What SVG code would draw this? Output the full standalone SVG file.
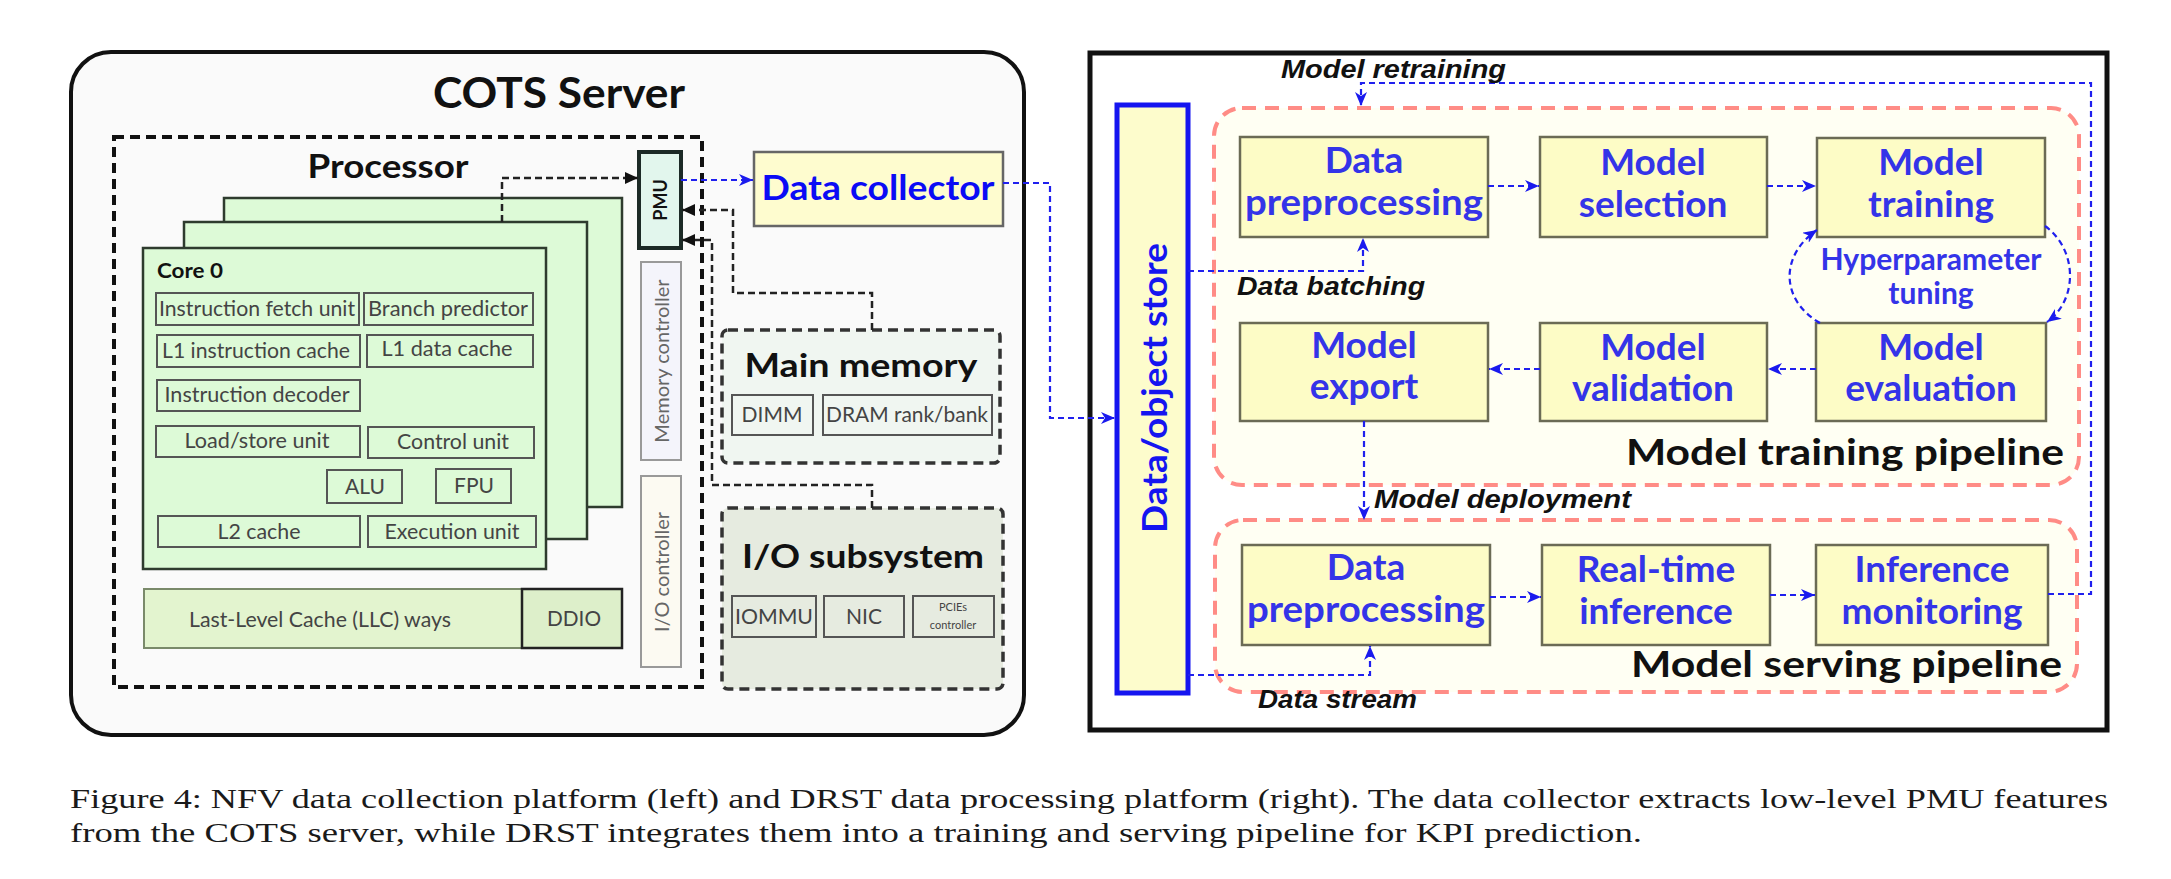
<svg xmlns="http://www.w3.org/2000/svg" width="2171" height="879" viewBox="0 0 2171 879">
<defs>
<marker id="ab" markerUnits="userSpaceOnUse" markerWidth="16" markerHeight="12" refX="14" refY="6" orient="auto">
<path d="M0,0 L14,6 L0,12 L4,6 z" fill="#1a1aee"/>
</marker>
<marker id="ak" markerUnits="userSpaceOnUse" markerWidth="14" markerHeight="12" refX="13" refY="6" orient="auto">
<path d="M0,0 L13,6 L0,12 z" fill="#111"/>
</marker>
<style>
.t{font-family:Lato,"Open Sans","Liberation Sans",sans-serif}
.h{font-family:Lato,"Open Sans","Liberation Sans",sans-serif;font-weight:bold;fill:#111}
.sm{font-family:Lato,"Open Sans","Liberation Sans",sans-serif;font-size:21px;fill:#444;text-anchor:middle}
.ib{fill:none;stroke:#555;stroke-width:2}
.core{fill:#ddfad7;stroke:#2e3b2e;stroke-width:2.5}
.pb{fill:#fdfcc6;stroke:#6b6b55;stroke-width:2.5}
.pt{font-family:Lato,"Open Sans","Liberation Sans",sans-serif;font-weight:bold;font-size:37px;fill:#3434e8;text-anchor:middle}
.it{font-family:"Liberation Sans",Arial,sans-serif;font-weight:bold;font-style:italic;font-size:25px;fill:#111}
.pipe{fill:#fffff3;stroke:#ff8c86;stroke-width:4;stroke-dasharray:14 9}
.bl{fill:none;stroke:#2020ee;stroke-width:2.2;stroke-dasharray:6 4}
.bk{fill:none;stroke:#222;stroke-width:2.5;stroke-dasharray:7 4}
.dsh{stroke:#333;stroke-width:3.5;stroke-dasharray:10 6}
.cap{font-family:"Liberation Serif","Times New Roman",serif;font-size:27px;fill:#1a1a1a}
</style>
</defs>
<rect x="0" y="0" width="2171" height="879" fill="#ffffff"/>

<!-- LEFT PANEL -->
<g id="cots-server">
<rect x="71" y="52" width="953" height="683" rx="40" fill="#fafafa" stroke="#111" stroke-width="4"/>
<text class="h" x="559" y="108" font-size="42" text-anchor="middle" textLength="252" lengthAdjust="spacingAndGlyphs">COTS Server</text>
</g>
<g id="processor">
<rect x="114" y="137" width="588" height="550" fill="none" stroke="#111" stroke-width="4" stroke-dasharray="10 6"/>
<text class="h" x="388" y="178" font-size="32" text-anchor="middle" textLength="161" lengthAdjust="spacingAndGlyphs">Processor</text>
</g>
<g id="cores">
<rect class="core" x="224" y="198" width="398" height="309"/>
<rect class="core" x="184" y="222" width="403" height="317"/>
<rect class="core" x="143" y="248" width="403" height="321"/>
<text class="h" x="157" y="278" font-size="20" fill="#222" textLength="66" lengthAdjust="spacingAndGlyphs">Core 0</text>
<rect class="ib" x="156" y="293" width="203" height="32"/><text class="sm" x="257" y="316" textLength="196" lengthAdjust="spacingAndGlyphs">Instruction fetch unit</text>
<rect class="ib" x="364" y="293" width="169" height="32"/><text class="sm" x="448" y="316" textLength="160" lengthAdjust="spacingAndGlyphs">Branch predictor</text>
<rect class="ib" x="157" y="335" width="203" height="32"/><text class="sm" x="256" y="358" textLength="188" lengthAdjust="spacingAndGlyphs">L1 instruction cache</text>
<rect class="ib" x="367" y="335" width="166" height="32"/><text class="sm" x="447" y="356" textLength="131" lengthAdjust="spacingAndGlyphs">L1 data cache</text>
<rect class="ib" x="157" y="380" width="203" height="31"/><text class="sm" x="257" y="402" textLength="185" lengthAdjust="spacingAndGlyphs">Instruction decoder</text>
<rect class="ib" x="156" y="426" width="204" height="31"/><text class="sm" x="257" y="448" textLength="145" lengthAdjust="spacingAndGlyphs">Load/store unit</text>
<rect class="ib" x="368" y="427" width="166" height="31"/><text class="sm" x="453" y="449" textLength="112" lengthAdjust="spacingAndGlyphs">Control unit</text>
<rect class="ib" x="327" y="470" width="75" height="33"/><text class="sm" x="365" y="494">ALU</text>
<rect class="ib" x="436" y="469" width="75" height="34"/><text class="sm" x="474" y="493">FPU</text>
<rect class="ib" x="158" y="516" width="202" height="31"/><text class="sm" x="259" y="539" textLength="83" lengthAdjust="spacingAndGlyphs">L2 cache</text>
<rect class="ib" x="368" y="516" width="168" height="31"/><text class="sm" x="452" y="539" textLength="135" lengthAdjust="spacingAndGlyphs">Execution unit</text>
</g>
<g id="llc">
<rect x="144" y="589" width="378" height="59" fill="#e3f4cf" stroke="#7a8a6a" stroke-width="2"/>
<text class="sm" x="320" y="627" textLength="262" lengthAdjust="spacingAndGlyphs">Last-Level Cache (LLC) ways</text>
<rect x="522" y="589" width="100" height="59" fill="#ddefca" stroke="#222" stroke-width="2.5"/>
<text class="sm" x="574" y="626" textLength="54" lengthAdjust="spacingAndGlyphs">DDIO</text>
</g>
<g id="pmu">
<rect x="639" y="152" width="42" height="96" fill="#e2f6ed" stroke="#1c2a26" stroke-width="4"/>
<text class="h" x="660" y="200" font-size="18" text-anchor="middle" dominant-baseline="central" transform="rotate(-90 660 200)">PMU</text>
</g>
<g id="memory-controller">
<rect x="641" y="262" width="40" height="198" fill="#f4f4fb" stroke="#999" stroke-width="2"/>
<text class="t" x="661" y="361" font-size="20" fill="#666" text-anchor="middle" dominant-baseline="central" transform="rotate(-90 661 361)">Memory  controller</text>
</g>
<g id="io-controller">
<rect x="641" y="476" width="40" height="191" fill="#fcfaf2" stroke="#999" stroke-width="2"/>
<text class="t" x="661" y="572" font-size="20" fill="#666" text-anchor="middle" dominant-baseline="central" transform="rotate(-90 661 572)">I/O controller</text>
</g>
<g id="main-memory">
<rect x="722" y="330" width="278" height="133" rx="6" fill="#f0f6f1" class="dsh"/>
<text class="h" x="861" y="377" font-size="33" text-anchor="middle" textLength="233" lengthAdjust="spacingAndGlyphs">Main memory</text>
<rect class="ib" x="732" y="395" width="81" height="40"/><text class="sm" x="772" y="422" font-size="20" fill="#555">DIMM</text>
<rect class="ib" x="823" y="395" width="169" height="40"/><text class="sm" x="907" y="422" font-size="20" fill="#555" textLength="162" lengthAdjust="spacingAndGlyphs">DRAM rank/bank</text>
</g>
<g id="io-subsystem">
<rect x="722" y="508" width="281" height="181" rx="6" fill="#e6ebe0" class="dsh"/>
<text class="h" x="863" y="568" font-size="33" text-anchor="middle" textLength="242" lengthAdjust="spacingAndGlyphs">I/O subsystem</text>
<rect class="ib" x="732" y="596" width="84" height="41"/><text class="sm" x="774" y="624" font-size="20" fill="#555" textLength="78" lengthAdjust="spacingAndGlyphs">IOMMU</text>
<rect class="ib" x="824" y="596" width="80" height="41"/><text class="sm" x="864" y="624" font-size="20" fill="#555">NIC</text>
<rect class="ib" x="913" y="596" width="81" height="41"/>
<text class="sm" x="953" y="611" style="font-size:11px" fill="#666">PCIEs</text>
<text class="sm" x="953" y="629" style="font-size:11px" fill="#666">controller</text>
</g>
<g id="data-collector">
<rect x="754" y="152" width="249" height="74" fill="#fefccf" stroke="#666" stroke-width="2.5"/>
<text class="h" x="878" y="200" font-size="34" text-anchor="middle" style="fill:#0b0bf5" textLength="233" lengthAdjust="spacingAndGlyphs">Data collector</text>
</g>

<!-- RIGHT PANEL -->
<g id="drst-platform">
<rect x="1090" y="53" width="1017" height="677" fill="#ffffff" stroke="#111" stroke-width="5"/>
</g>
<g id="training-pipeline">
<rect class="pipe" x="1214" y="108" width="865" height="377" rx="28"/>
<text class="h" x="2064" y="465" font-size="36" text-anchor="end" textLength="438" lengthAdjust="spacingAndGlyphs">Model training pipeline</text>
</g>
<g id="serving-pipeline">
<rect class="pipe" x="1215" y="520" width="862" height="172" rx="28"/>
<text class="h" x="2062" y="677" font-size="36" text-anchor="end" textLength="431" lengthAdjust="spacingAndGlyphs">Model serving pipeline</text>
</g>
<g id="data-object-store">
<rect x="1117" y="105" width="71" height="588" fill="#fdfccc" stroke="#1515f0" stroke-width="5"/>
<text class="h" x="1153" y="388" font-size="34" text-anchor="middle" dominant-baseline="central" style="fill:#1515f0" transform="rotate(-90 1153 388)" textLength="290" lengthAdjust="spacingAndGlyphs">Data/object store</text>
</g>
<g id="train-data-preprocessing">
<rect class="pb" x="1240" y="137" width="248" height="100"/>
<text class="pt" x="1364" y="173">Data</text><text class="pt" x="1364" y="215" textLength="238" lengthAdjust="spacingAndGlyphs">preprocessing</text>
</g>
<g id="model-selection">
<rect class="pb" x="1540" y="137" width="227" height="100"/>
<text class="pt" x="1653" y="175">Model</text><text class="pt" x="1653" y="217">selection</text>
</g>
<g id="model-training">
<rect class="pb" x="1817" y="138" width="228" height="99"/>
<text class="pt" x="1931" y="175">Model</text><text class="pt" x="1931" y="217">training</text>
</g>
<g id="model-export">
<rect class="pb" x="1240" y="323" width="248" height="98"/>
<text class="pt" x="1364" y="358">Model</text><text class="pt" x="1364" y="399">export</text>
</g>
<g id="model-validation">
<rect class="pb" x="1540" y="323" width="227" height="98"/>
<text class="pt" x="1653" y="360">Model</text><text class="pt" x="1653" y="401">validation</text>
</g>
<g id="model-evaluation">
<rect class="pb" x="1816" y="323" width="230" height="98"/>
<text class="pt" x="1931" y="360">Model</text><text class="pt" x="1931" y="401">evaluation</text>
</g>
<g id="hyperparameter-tuning">
<text class="pt" x="1931" y="270" style="font-size:30px" textLength="221" lengthAdjust="spacingAndGlyphs">Hyperparameter</text>
<text class="pt" x="1931" y="304" style="font-size:30px">tuning</text>
</g>
<g id="serve-data-preprocessing">
<rect class="pb" x="1242" y="545" width="248" height="100"/>
<text class="pt" x="1366" y="580">Data</text><text class="pt" x="1366" y="622" textLength="238" lengthAdjust="spacingAndGlyphs">preprocessing</text>
</g>
<g id="real-time-inference">
<rect class="pb" x="1542" y="545" width="228" height="100"/>
<text class="pt" x="1656" y="582">Real-time</text><text class="pt" x="1656" y="624">inference</text>
</g>
<g id="inference-monitoring">
<rect class="pb" x="1816" y="545" width="232" height="100"/>
<text class="pt" x="1932" y="582">Inference</text><text class="pt" x="1932" y="624">monitoring</text>
</g>

<g id="connectors">
<path class="bk" d="M502 222 V178 H638" marker-end="url(#ak)"/>
<path class="bk" d="M872 330 V293 H733 V210 H682" marker-end="url(#ak)"/>
<path class="bk" d="M872 508 V485 H712 V240 H682" marker-end="url(#ak)"/>
<path class="bl" d="M681 180 H753" marker-end="url(#ab)"/>
<path class="bl" d="M1003 183 H1050 V418 H1115" marker-end="url(#ab)"/>
<path class="bl" d="M1488 186 H1539" marker-end="url(#ab)"/>
<path class="bl" d="M1767 186 H1816" marker-end="url(#ab)"/>
<path class="bl" d="M1816 369 H1768" marker-end="url(#ab)"/>
<path class="bl" d="M1540 369 H1489" marker-end="url(#ab)"/>
<path class="bl" d="M1490 597 H1541" marker-end="url(#ab)"/>
<path class="bl" d="M1770 595 H1815" marker-end="url(#ab)"/>
<path class="bl" d="M1364 421 V520" marker-end="url(#ab)"/>
<path class="bl" d="M2048 594 H2091 V83 H1361 V106" marker-end="url(#ab)"/>
<path class="bl" d="M1188 271 H1363 V238" marker-end="url(#ab)"/>
<path class="bl" d="M1188 675 H1370 V646" marker-end="url(#ab)"/>
<path class="bl" d="M1820 323 C1780 300 1780 255 1817 230" marker-end="url(#ab)"/>
<path class="bl" d="M2045 226 C2078 250 2078 300 2047 322" marker-end="url(#ab)"/>
<text class="it" x="1281" y="78" textLength="225" lengthAdjust="spacingAndGlyphs">Model retraining</text>
<text class="it" x="1237" y="295" textLength="188" lengthAdjust="spacingAndGlyphs">Data batching</text>
<text class="it" x="1374" y="508" textLength="257" lengthAdjust="spacingAndGlyphs">Model deployment</text>
<text class="it" x="1258" y="708" textLength="159" lengthAdjust="spacingAndGlyphs">Data stream</text>
</g>

<g id="caption">
<text class="cap" x="70" y="808" textLength="2038" lengthAdjust="spacingAndGlyphs">Figure 4: NFV data collection platform (left) and DRST data processing platform (right). The data collector extracts low-level PMU features</text>
<text class="cap" x="70" y="842" textLength="1572" lengthAdjust="spacingAndGlyphs">from the COTS server, while DRST integrates them into a training and serving pipeline for KPI prediction.</text>
</g>
</svg>
